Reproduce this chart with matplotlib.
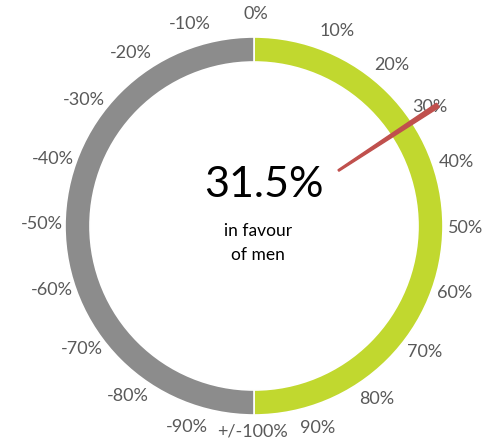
import numpy as np
import matplotlib.pyplot as plt
from matplotlib.patches import Polygon

# gauge data
halves = [100, 100]            # men side (right), women side (left)
half_colors = ['#C1D82F', '#8C8C8C']
value = 31.5
tick_vals = list(range(0, 100, 10)) + [100] + list(range(-90, 0, 10))
tick_labels = [f'{v}%' for v in range(0, 100, 10)] + ['+/-100%'] + [f'{v}%' for v in range(-90, 0, 10)]

plt.rcParams['font.family'] = ['Lato', 'DejaVu Sans']

fig = plt.figure(figsize=(4.83, 4.41), dpi=100)
ax = fig.add_axes([0, 0, 1, 1])

R = 189
ax.pie(halves, colors=half_colors, startangle=90, counterclock=False, radius=R,
       wedgeprops=dict(width=25, edgecolor='white', linewidth=1.2))

# tick labels around the ring, 18 degrees per 10%
# (the first two labels sit a bit further round, as in the original)
nudge = {10: 5, 20: 4.5, 30: 2}
for v, lab in zip(tick_vals, tick_labels):
    ang = np.radians(v * 1.8 + nudge.get(v, 0.5))
    r = 206 if v == 100 else 212
    ax.text(r * np.sin(ang), r * np.cos(ang), lab, ha='center', va='center',
            fontsize=13, color='#595959')

# needle
a = np.radians(value * 1.8)
ux, uy = np.sin(a), np.cos(a)
px, py = -uy, ux
r0, r1 = 101, 220
pts = [(r0 * ux - 0.8 * px, r0 * uy - 0.8 * py),
       (r0 * ux + 0.8 * px, r0 * uy + 0.8 * py),
       (r1 * ux + 2.4 * px, r1 * uy + 2.4 * py),
       (r1 * ux - 2.4 * px, r1 * uy - 2.4 * py)]
ax.add_patch(Polygon(pts, closed=True, color='#C0504D', zorder=5))

ax.text(10, 41, f'{value}%', ha='center', va='center', fontsize=31, color='black')
ax.text(4, -5, 'in favour', ha='center', va='center', fontsize=12.5, color='black')
ax.text(4, -29, 'of men', ha='center', va='center', fontsize=12.5, color='black')

ax.set_aspect('equal')
ax.set_xlim(-254, 229)
ax.set_ylim(-215, 226)
ax.axis('off')

fig.savefig('out.png', dpi=100)
